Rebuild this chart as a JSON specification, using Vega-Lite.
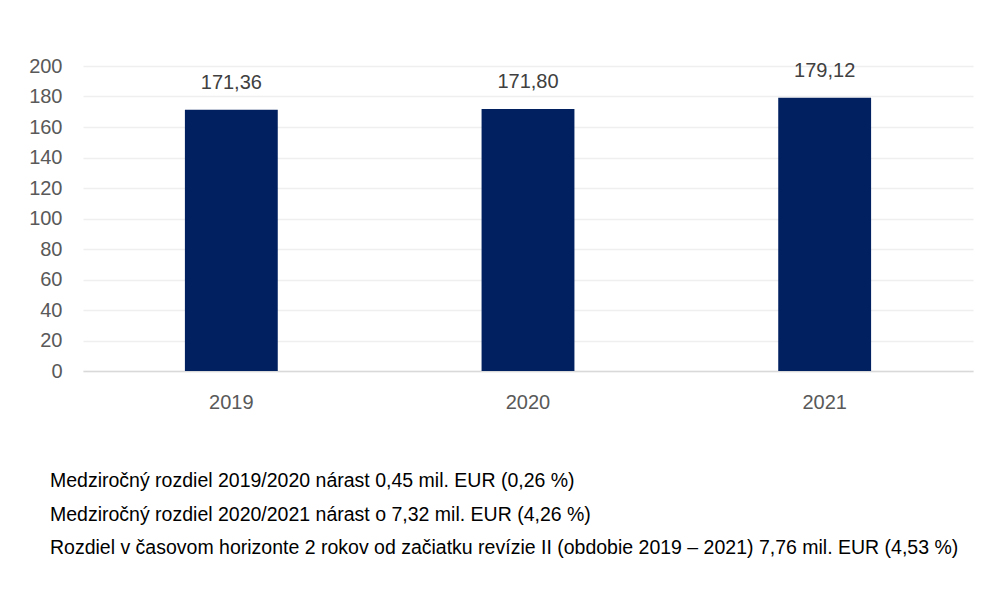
{
  "$schema": "https://vega.github.io/schema/vega-lite/v6.json",
  "width": 890,
  "height": 305,
  "autosize": "none",
  "padding": {"left": 83, "top": 66, "right": 17, "bottom": 223},
  "background": "white",
  "data": {
    "values": [
      {"rok": "2019", "hodnota": 171.36, "popis": "171,36"},
      {"rok": "2020", "hodnota": 171.80, "popis": "171,80"},
      {"rok": "2021", "hodnota": 179.12, "popis": "179,12"}
    ]
  },
  "encoding": {
    "x": {
      "field": "rok",
      "type": "ordinal",
      "scale": {"paddingInner": 0.687, "paddingOuter": 0.3435},
      "axis": {
        "title": null,
        "labelAngle": 0,
        "ticks": false,
        "domain": true,
        "domainColor": "#d9d9d9",
        "domainWidth": 1.5,
        "labelPadding": 21,
        "labelFontSize": 20,
        "labelColor": "#595959",
        "labelFont": "Liberation Sans",
        "grid": false
      }
    },
    "y": {
      "field": "hodnota",
      "type": "quantitative",
      "scale": {"domain": [0, 200], "nice": false},
      "axis": {
        "title": null,
        "values": [0, 20, 40, 60, 80, 100, 120, 140, 160, 180, 200],
        "labelOverlap": false,
        "domain": false,
        "ticks": false,
        "grid": true,
        "gridColor": "#efefef",
        "gridWidth": 1.5,
        "labelFontSize": 20,
        "labelColor": "#595959",
        "labelFont": "Liberation Sans",
        "labelPadding": 21
      }
    }
  },
  "layer": [
    {
      "mark": {"type": "bar", "color": "#012060"}
    },
    {
      "mark": {
        "type": "text",
        "baseline": "middle",
        "dy": -27,
        "fontSize": 20,
        "font": "Liberation Sans",
        "color": "#404040"
      },
      "encoding": {
        "text": {"field": "popis"}
      }
    }
  ],
  "title": {
    "text": [
      "Medziročný rozdiel 2019/2020 nárast 0,45 mil. EUR (0,26 %)",
      "Medziročný rozdiel 2020/2021 nárast o 7,32 mil. EUR (4,26 %)",
      "Rozdiel v časovom horizonte 2 rokov od začiatku revízie II (obdobie 2019 – 2021) 7,76 mil. EUR (4,53 %)"
    ],
    "orient": "bottom",
    "anchor": "start",
    "frame": "group",
    "dx": -33,
    "offset": 60,
    "font": "Liberation Sans",
    "fontSize": 19.5,
    "fontWeight": "normal",
    "color": "#000000",
    "lineHeight": 33.5
  },
  "config": {"view": {"stroke": null}}
}
